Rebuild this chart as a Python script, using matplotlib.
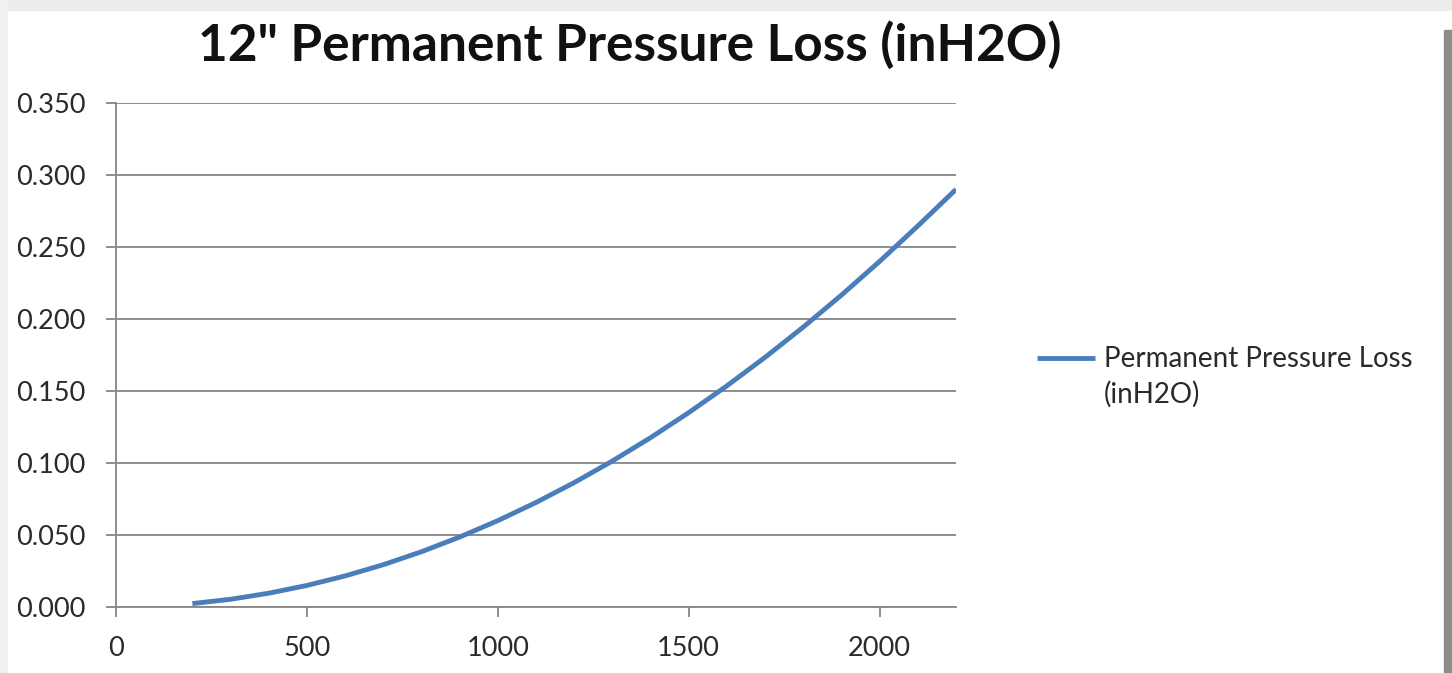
import matplotlib.pyplot as plt
from matplotlib.patches import Rectangle
from matplotlib.legend_handler import HandlerLine2D

# flow rate vs permanent pressure loss
flow = [200, 300, 400, 500, 600, 700, 800, 900, 1000, 1100, 1200,
        1300, 1400, 1500, 1600, 1700, 1800, 1900, 2000, 2100, 2200]
loss = [0.0024, 0.0054, 0.0096, 0.0150, 0.0216, 0.0294, 0.0384, 0.0486, 0.0600,
        0.0726, 0.0864, 0.1014, 0.1176, 0.1350, 0.1536, 0.1734, 0.1944, 0.2166,
        0.2400, 0.2646, 0.2900]

y_ticks = [0.0, 0.05, 0.10, 0.15, 0.20, 0.25, 0.30, 0.35]
x_ticks = [0, 500, 1000, 1500, 2000]

plt.rcParams["font.family"] = ["Lato", "DejaVu Sans"]


class TopLineHandler(HandlerLine2D):
    # put the legend line next to the first text line, like Excel does
    def create_artists(self, legend, orig_handle, xdescent, ydescent,
                       width, height, fontsize, trans):
        arts = super().create_artists(legend, orig_handle, xdescent, ydescent,
                                      width, height, fontsize, trans)
        for a in arts:
            a.set_ydata(a.get_ydata() + 0.70 * fontsize)
        return arts


fig = plt.figure(figsize=(14.52, 6.73), dpi=100)
fig.patch.set_facecolor("white")

# screenshot frame
fig.patches.append(Rectangle((0, 0.985), 1, 0.015, transform=fig.transFigure,
                             color="#ececec", zorder=0))
fig.patches.append(Rectangle((0, 0), 0.005, 1, transform=fig.transFigure,
                             color="#f0f0f0", zorder=0))
fig.patches.append(Rectangle((0.9945, 0), 0.0055, 0.955, transform=fig.transFigure,
                             color="#8c8c8c", zorder=0))

ax = fig.add_axes([0.0799, 0.098, 0.5785, 0.749])
line, = ax.plot(flow, loss, color="#4a7ebb", linewidth=3.5,
                solid_capstyle="butt", solid_joinstyle="round",
                label="Permanent Pressure Loss\n(inH2O)")

ax.set_xlim(0, 2200)
ax.set_ylim(0, 0.35)
ax.set_yticks(y_ticks)
ax.set_yticklabels([f"{v:.3f}" for v in y_ticks])
ax.set_xticks(x_ticks)

ax.grid(axis="y", color="#868686", linewidth=1.3)
ax.set_axisbelow(True)
for s in ["top", "right"]:
    ax.spines[s].set_visible(False)
ax.spines["left"].set_color("#868686")
ax.spines["bottom"].set_color("#868686")
ax.spines["left"].set_linewidth(1.3)
ax.spines["bottom"].set_linewidth(1.3)
ax.tick_params(axis="both", colors="#868686", labelcolor="#2a2a2a",
               labelsize=19.5, length=7, width=1.3, direction="out")
ax.tick_params(axis="x", pad=14)
ax.tick_params(axis="y", pad=15)

fig.text(0.434, 0.933, '12" Permanent Pressure Loss (inH2O)', ha="center",
         va="center", fontsize=37, fontweight="bold", color="#111111")

leg = fig.legend(handles=[line], loc="center left", bbox_to_anchor=(0.7142, 0.4406),
                 frameon=False, fontsize=20, handlelength=2.1, handletextpad=0.3,
                 borderpad=0, borderaxespad=0, labelcolor="#2a2a2a",
                 handler_map={line: TopLineHandler()})
for t in leg.get_texts():
    t.set_linespacing(1.4)

fig.savefig("out.png", dpi=100, facecolor=fig.get_facecolor())
